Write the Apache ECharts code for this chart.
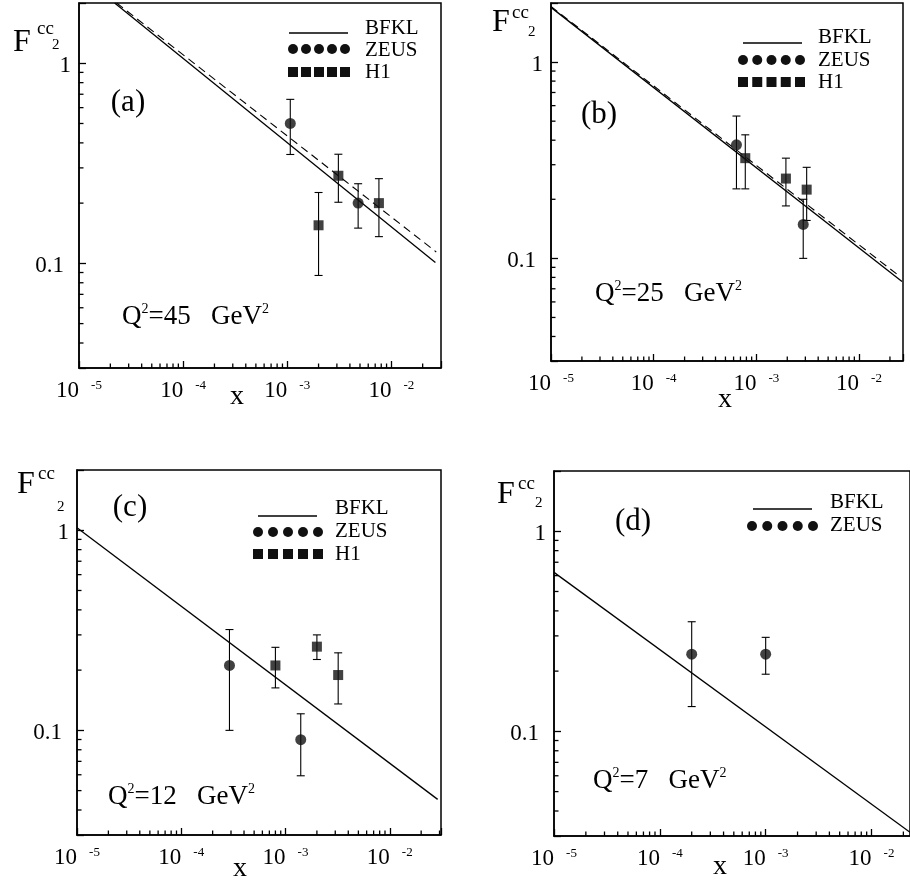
<!DOCTYPE html>
<html>
<head>
<meta charset="utf-8">
<title>F2cc vs x - BFKL, ZEUS, H1</title>
<script src="https://cdn.jsdelivr.net/npm/echarts@6/dist/echarts.min.js"></script>
<style>
  html, body { margin: 0; padding: 0; background: #fff; }
  #chart { width: 910px; height: 880px; }
</style>
</head>
<body>
<div id="chart"></div>
<script>
// ---- data ----
const panelTags = ['(a)', '(b)', '(c)', '(d)']
const q2Values = [45, 25, 12, 7]

// axis ranges
const xMin = 1e-5
const xMax = [0.03, 0.0268, 0.031, 0.0231]
const yMin = 0.03
const yMax = 2
const minorMultipliers = [2, 3, 4, 5, 6, 7, 8, 9]

// BFKL curves [x, F2cc]
const bfklSolidA = [[2.2e-5, 2.0], [2.65e-2, 0.101]]
const bfklDashedA = [[2.3e-5, 2.0], [2.7e-2, 0.114]]
const bfklSolidB = [[1e-5, 1.9], [2.62e-2, 0.0762]]
const bfklDashedB = [[1e-5, 1.92], [2.43e-2, 0.0818]]
const bfklSolidC = [[1e-5, 1.03], [2.88e-2, 0.0452]]
const bfklSolidD = [[1e-5, 0.623], [2.31e-2, 0.0313]]

// measurements [x, F2cc, low, high]
const zeusA = [[1.07e-3, 0.50, 0.35, 0.66], [4.8e-3, 0.20, 0.15, 0.25]]
const h1A = [[2.0e-3, 0.155, 0.087, 0.226], [3.1e-3, 0.274, 0.202, 0.351], [7.6e-3, 0.20, 0.136, 0.265]]
const zeusB = [[6.4e-4, 0.379, 0.226, 0.531], [2.86e-3, 0.149, 0.10, 0.20]]
const h1B = [[7.8e-4, 0.324, 0.226, 0.426], [1.94e-3, 0.255, 0.185, 0.324], [3.09e-3, 0.224, 0.156, 0.291]]
const zeusC = [[2.9e-4, 0.211, 0.10, 0.319], [1.4e-3, 0.0898, 0.0593, 0.121]]
const h1C = [[8.0e-4, 0.211, 0.163, 0.26], [2.0e-3, 0.262, 0.226, 0.30], [3.2e-3, 0.189, 0.1355, 0.244]]
const zeusD = [[2.0e-4, 0.243, 0.133, 0.353], [1.0e-3, 0.243, 0.193, 0.295]]

const panels = [
  { solid: bfklSolidA, dashed: bfklDashedA, zeus: zeusA, h1: h1A },
  { solid: bfklSolidB, dashed: bfklDashedB, zeus: zeusB, h1: h1B },
  { solid: bfklSolidC, dashed: null, zeus: zeusC, h1: h1C },
  { solid: bfklSolidD, dashed: null, zeus: zeusD, h1: null },
]

// ---- layout (pixels) ----
const grids = [
  { left: 79, top: 3, width: 362, height: 365 },
  { left: 551, top: 3, width: 352, height: 358 },
  { left: 77, top: 470, width: 364, height: 365 },
  { left: 554, top: 471, width: 356, height: 365 },
]
const textLayout = [
  { tag: [128, 103], q: [122, 317], xName: [237, 397], F: [13, 42.5], cc: [37, 29], sub: [52, 45],
    leg: { lineX: [289, 348], markX: [293, 345], markY: [33, 49, 72], textX: 365, textY: [28, 50, 72] } },
  { tag: [599, 115], q: [595, 294], xName: [725, 400], F: [492, 22.5], cc: [512, 13], sub: [528, 32],
    leg: { lineX: [743, 802], markX: [743, 800], markY: [43, 60, 82], textX: 818, textY: [37.5, 60, 82] } },
  { tag: [130, 508], q: [108, 797], xName: [240, 869], F: [17, 485], cc: [38, 474], sub: [57, 507],
    leg: { lineX: [258, 317], markX: [258, 318], markY: [516, 532, 554], textX: 335, textY: [508, 531.5, 554.5] } },
  { tag: [633, 522], q: [593, 781], xName: [720, 867], F: [497, 495], cc: [518, 484], sub: [535, 503],
    leg: { lineX: [753, 812], markX: [752, 813], markY: [509, 526], textX: 830, textY: [502, 525.5] } },
]

const SERIF = '"Liberation Serif", "DejaVu Serif", serif'
const INK = '#000'

function isDecade(v) {
  const l = Math.log10(v)
  return Math.abs(l - Math.round(l)) < 1e-6
}

function renderErrorBar(params, api) {
  const x = api.value(0)
  const lo = api.coord([x, api.value(2)])
  const hi = api.coord([x, api.value(3)])
  const w = 4
  const style = { stroke: INK, lineWidth: 1.1 }
  return {
    type: 'group',
    children: [
      { type: 'line', shape: { x1: lo[0], y1: lo[1], x2: hi[0], y2: hi[1] }, style },
      { type: 'line', shape: { x1: lo[0] - w, y1: lo[1], x2: lo[0] + w, y2: lo[1] }, style },
      { type: 'line', shape: { x1: hi[0] - w, y1: hi[1], x2: hi[0] + w, y2: hi[1] }, style },
    ],
  }
}

// short minor ticks at 2..9 x 10^n, placed through the axes
function renderMinorTick(params, api) {
  const p = api.coord([api.value(0), api.value(1)])
  const len = 4.5
  const vertical = api.value(2) === 0
  return {
    type: 'line',
    shape: vertical
      ? { x1: p[0], y1: p[1], x2: p[0], y2: p[1] - len }
      : { x1: p[0], y1: p[1], x2: p[0] + len, y2: p[1] },
    style: { stroke: INK, lineWidth: 1.3 },
  }
}

function minorTickData(i) {
  const data = []
  for (let n = -5; n <= -2; n++) {
    minorMultipliers.forEach((k) => {
      const v = k * Math.pow(10, n)
      if (v < xMax[i]) data.push([v, yMin, 0])
    })
  }
  for (let n = -2; n <= 0; n++) {
    minorMultipliers.forEach((k) => {
      const v = k * Math.pow(10, n)
      if (v > yMin && v < yMax) data.push([xMin, v, 1])
    })
  }
  return data
}

const xAxes = grids.map((g, i) => ({
  type: 'log',
  logBase: 10,
  gridIndex: i,
  min: xMin,
  max: xMax[i],
  axisLine: { show: true, lineStyle: { color: INK, width: 1.5 } },
  axisTick: { show: true, inside: true, length: 7, lineStyle: { color: INK, width: 1.3 } },
  splitLine: { show: false },
  axisLabel: {
    margin: 11,
    formatter: (v) => (isDecade(v) ? '{b|10}{e|' + Math.round(Math.log10(v)) + '}' : ''),
    rich: {
      b: { fontFamily: SERIF, fontSize: 23, color: INK, lineHeight: 24 },
      e: { fontFamily: SERIF, fontSize: 13, color: INK, lineHeight: 9, verticalAlign: 'top', padding: [0, 0, 0, 12] },
    },
  },
}))

const yAxes = grids.map((g, i) => ({
  type: 'log',
  logBase: 10,
  gridIndex: i,
  min: yMin,
  max: yMax,
  axisLine: { show: true, lineStyle: { color: INK, width: 1.5 } },
  axisTick: { show: true, inside: true, length: 7, lineStyle: { color: INK, width: 1.3 } },
  splitLine: { show: false },
  axisLabel: {
    margin: 8,
    formatter: (v) => {
      if (!isDecade(v)) return ''
      const txt = String(Number(v.toPrecision(2)))
      return v >= 1 ? '{one|' + txt + '}' : '{p|' + txt + '}'
    },
    rich: {
      one: { fontFamily: SERIF, fontSize: 23, color: INK, padding: [6, 0, 0, 0] },
      p: { fontFamily: SERIF, fontSize: 23, color: INK, padding: [6, 7, 0, 0] },
    },
  },
}))

const series = []
panels.forEach((p, i) => {
  series.push({
    type: 'custom', name: 'ticks' + i, xAxisIndex: i, yAxisIndex: i, silent: true,
    renderItem: renderMinorTick, data: minorTickData(i), encode: { x: 0, y: 1 }, z: 5,
  })
  series.push({
    type: 'line', name: 'BFKL', xAxisIndex: i, yAxisIndex: i, data: p.solid,
    symbol: 'none', lineStyle: { color: INK, width: 1.3, type: 'solid' }, z: 2,
  })
  if (p.dashed) {
    series.push({
      type: 'line', name: 'BFKL dashed', xAxisIndex: i, yAxisIndex: i, data: p.dashed,
      symbol: 'none', lineStyle: { color: INK, width: 1.1, type: [8, 5] }, z: 2,
    })
  }
  const points = p.zeus.concat(p.h1 || [])
  series.push({
    type: 'custom', name: 'errors' + i, xAxisIndex: i, yAxisIndex: i, silent: true,
    renderItem: renderErrorBar, data: points, encode: { x: 0, y: 1 }, z: 3,
  })
  series.push({
    type: 'scatter', name: 'ZEUS', xAxisIndex: i, yAxisIndex: i,
    data: p.zeus.map((d) => [d[0], d[1]]),
    symbol: 'circle', symbolSize: 11, itemStyle: { color: '#111' }, z: 4,
  })
  if (p.h1) {
    series.push({
      type: 'scatter', name: 'H1', xAxisIndex: i, yAxisIndex: i,
      data: p.h1.map((d) => [d[0], d[1]]),
      symbol: 'rect', symbolSize: 10, itemStyle: { color: '#111' }, z: 4,
    })
  }
})

// ---- texts and legend keys ----
const graphic = []
function text(x, y, str, size, align) {
  graphic.push({
    type: 'text', x, y, silent: true,
    style: { text: str, fontFamily: SERIF, fontSize: size, fill: INK, align: align || 'left', verticalAlign: 'middle' },
  })
}

textLayout.forEach((t, i) => {
  text(t.tag[0], t.tag[1], panelTags[i], 31, 'center')
  text(t.xName[0], t.xName[1], 'x', 28, 'center')
  text(t.F[0], t.F[1], 'F', 32)
  text(t.cc[0], t.cc[1], 'cc', 19)
  text(t.sub[0], t.sub[1], '2', 15)
  graphic.push({
    type: 'text', x: t.q[0], y: t.q[1], silent: true,
    style: {
      text: '{m|Q}{s|2}{m|=' + q2Values[i] + '   GeV}{s|2}',
      align: 'left', verticalAlign: 'middle',
      rich: {
        m: { fontFamily: SERIF, fontSize: 27, fill: INK, lineHeight: 30 },
        s: { fontFamily: SERIF, fontSize: 14, fill: INK, lineHeight: 10, verticalAlign: 'top' },
      },
    },
  })

  const lg = t.leg
  const labels = panels[i].h1 ? ['BFKL', 'ZEUS', 'H1'] : ['BFKL', 'ZEUS']
  graphic.push({
    type: 'line', silent: true,
    shape: { x1: lg.lineX[0], y1: lg.markY[0], x2: lg.lineX[1], y2: lg.markY[0] },
    style: { stroke: INK, lineWidth: 1.3 },
  })
  const step = (lg.markX[1] - lg.markX[0]) / 4
  for (let k = 0; k < 5; k++) {
    const cx = lg.markX[0] + k * step
    graphic.push({ type: 'circle', silent: true, shape: { cx, cy: lg.markY[1], r: 5 }, style: { fill: '#111' } })
    if (labels.length > 2) {
      graphic.push({ type: 'rect', silent: true, shape: { x: cx - 5, y: lg.markY[2] - 5, width: 10, height: 10 }, style: { fill: '#111' } })
    }
  }
  labels.forEach((lab, r) => text(lg.textX, lg.textY[r], lab, 21))
})

const chart = echarts.init(document.getElementById('chart'), null, { renderer: 'canvas' })
chart.setOption({
  animation: false,
  backgroundColor: '#fff',
  grid: grids.map((g) => Object.assign({
    show: true, borderColor: INK, borderWidth: 1.5,
    containLabel: false, outerBoundsMode: 'none',
  }, g)),
  xAxis: xAxes,
  yAxis: yAxes,
  series,
  graphic,
})
</script>
</body>
</html>
